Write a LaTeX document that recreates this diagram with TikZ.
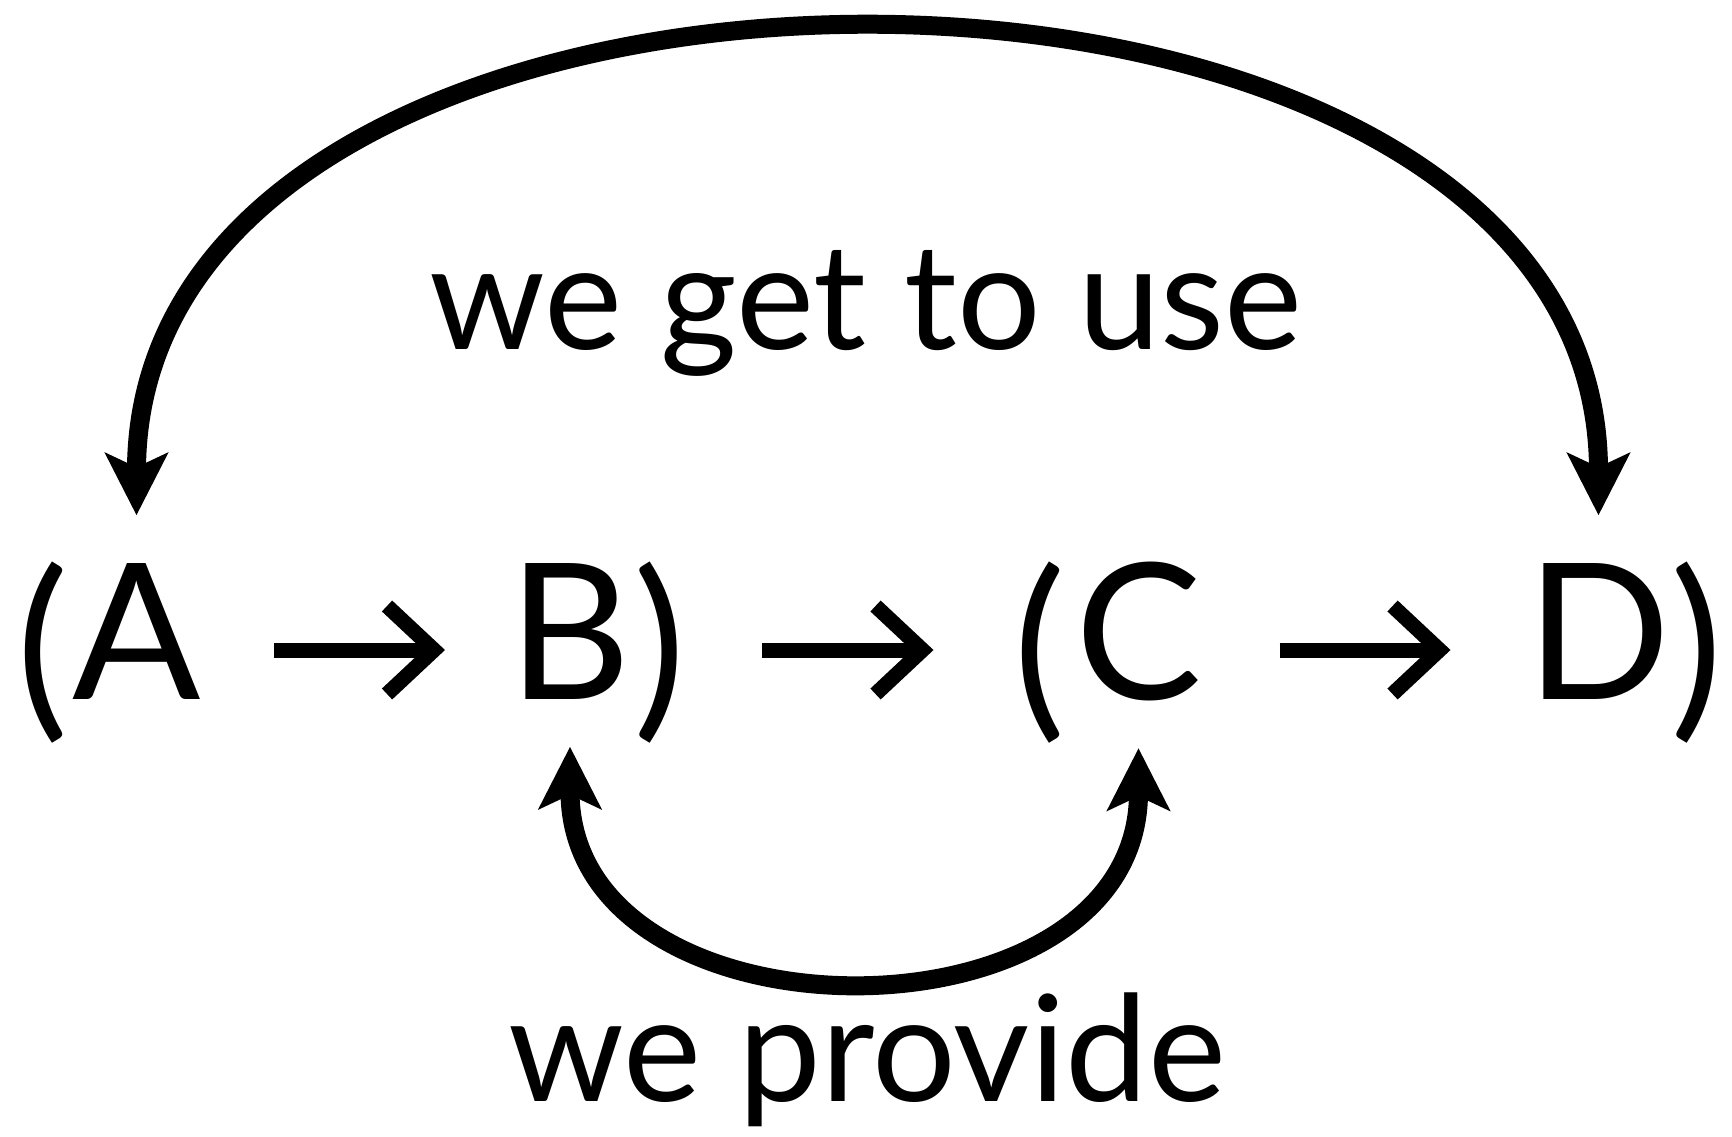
\documentclass[tikz,border=0pt]{standalone}
\usepackage{fontspec}
\setmainfont{Lato}
\usetikzlibrary{arrows.meta}
\tikzset{
    letter/.style={anchor=base, inner xsep=0pt, inner ysep=0.47cm, font=\fontsize{54}{64}\selectfont},
    paren/.style={anchor=base, inner sep=0pt, font=\fontsize{56}{64}\selectfont},
    wordlabel/.style={anchor=base, inner sep=0pt, font=\fontsize{42}{50}\selectfont},
    maparrow/.style={line width=0.15cm, -{Straight Barb[length=0.47cm, width=0.88cm, line join=miter, line cap=butt]}},
    bigarrow/.style={line width=0.19cm, {Stealth[length=0.62cm, width=0.62cm, inset=0.14cm]}-{Stealth[length=0.62cm, width=0.62cm, inset=0.14cm]}},
}

\begin{document}
\begin{tikzpicture}
    \useasboundingbox (0,0) rectangle (17.32,11.36);
    \node[paren] (lp1) at (0.43,4.22) {(};
    \node[letter] (A) at (1.365,4.37) {A};
    \node[letter] (B) at (5.70,4.37) {B};
    \node[paren] (rp1) at (6.60,4.22) {)};
    \node[paren] (lp2) at (10.40,4.22) {(};
    \node[letter] (C) at (11.385,4.37) {C};
    \node[letter] (D) at (15.985,4.37) {D};
    \node[paren] (rp2) at (16.97,4.22) {)};
    \node[wordlabel] (use) at (8.66,7.87) {we get to use};
    \node[wordlabel] (provide) at (8.67,0.35) {we provide};
    \draw[maparrow] ([shift={(1.375,0.49)}]A.base) -- ([shift={(-1.25,0.49)}]B.base);
    \draw[maparrow] ([shift={(1.92,0.49)}]B.base) -- ([shift={(-2.05,0.49)}]C.base);
    \draw[maparrow] ([shift={(1.41,0.49)}]C.base) -- ([shift={(-1.48,0.49)}]D.base);
    \draw[bigarrow] (A.north) .. controls +(0,6.4) and +(0,6.4) .. (D.north);
    \draw[bigarrow] (B.south) .. controls +(0,-3.03) and +(0,-3.03) .. (C.south);
\end{tikzpicture}
\end{document}
